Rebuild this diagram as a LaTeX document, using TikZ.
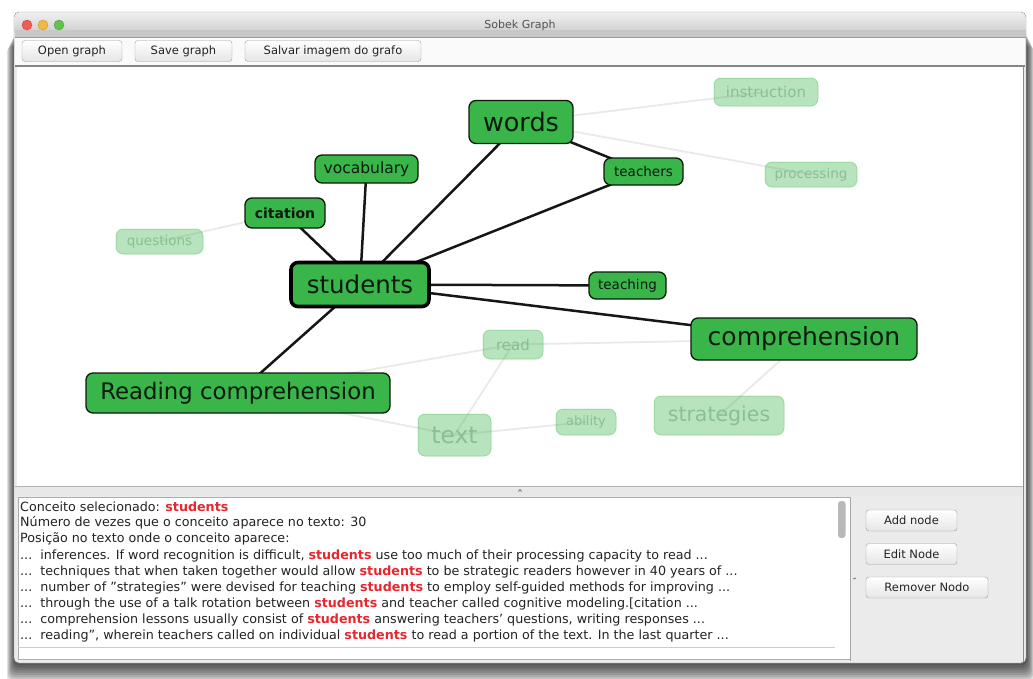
\documentclass[tikz,border=0pt]{standalone}
\usepackage{fontspec}
\setmainfont{DejaVu Sans}
\pgfdeclarelayer{chrome}
\pgfdeclarelayer{edges}
\pgfsetlayers{chrome,edges,main}

\definecolor{nodegreen}{RGB}{57,181,74}
\definecolor{nodeink}{RGB}{12,26,14}
\definecolor{faintink}{RGB}{138,190,148}
\definecolor{hitred}{RGB}{232,38,48}
\definecolor{uiink}{RGB}{35,35,35}
\definecolor{tieink}{RGB}{22,22,22}
\definecolor{weakink}{RGB}{233,233,233}
\definecolor{lampred}{RGB}{238,92,84}
\definecolor{lampredrim}{RGB}{200,70,62}
\definecolor{lampamber}{RGB}{243,184,62}
\definecolor{lampamberrim}{RGB}{205,150,45}
\definecolor{lampgreen}{RGB}{98,194,80}
\definecolor{lampgreenrim}{RGB}{72,160,60}

\newcommand{\redword}{\textcolor{hitred}{\bfseries students}}
\newcommand{\fsz}[1]{\fontsize{#1}{#1}\selectfont}
\newcommand{\dq}{\symbol{34}}

\tikzset{
  hub/.style={draw=nodeink, line width=1.3pt, fill=nodegreen, rounded corners=7pt,
    inner sep=0pt, text=nodeink, align=center},
  faint/.style={draw=nodegreen, draw opacity=0.3, line width=1pt, fill=nodegreen,
    fill opacity=0.36, text opacity=1, text=faintink, rounded corners=7pt,
    inner sep=0pt, align=center},
  tie/.style={line width=2.5pt, draw=tieink},
  weak/.style={line width=1.8pt, draw=weakink},
  uitext/.style={anchor=west, inner sep=0pt, text=uiink, font=\fsz{12.7}},
  uibutton/.style={draw=black!38, rounded corners=3pt, top color=white, bottom color=black!10,
    inner sep=0pt, minimum height=21pt, text=uiink, font=\fsz{11.5}}
}

\begin{document}
\begin{tikzpicture}[x=1pt,y=-1pt]
\useasboundingbox (0,0) rectangle (1033,678);

% ---------- window chrome ----------
\begin{pgfonlayer}{chrome}
  \fill[white] (0,0) rectangle (1033,678);
  % soft drop shadow below and right of the window
  \foreach \d in {0,...,8}
    \fill[black, opacity=0.12, rounded corners=6pt]
      (15-\d*1,30+\d*2) rectangle (1026+\d*1,663+\d*2.4);
  % window body
  \fill[black!8, draw=black!45, rounded corners=5pt] (14,12) rectangle (1026,663);
  % title bar
  \shade[top color=black!6, bottom color=black!22, rounded corners=5pt]
    (14.5,12.5) rectangle (1025.5,37);
  \fill[black!22] (14.5,30) rectangle (1025.5,37);
  \draw[black!38] (14.5,37) -- (1025.5,37);
  \fill[lampred, draw=lampredrim] (27,25) circle (5);
  \fill[lampamber, draw=lampamberrim] (43,25) circle (5);
  \fill[lampgreen, draw=lampgreenrim] (59,25) circle (5);
  \node[text=black!68, font=\fsz{11}] (title) at (520,25) {Sobek Graph};
  % toolbar strip
  \fill[black!2] (15,37.5) rectangle (1025,65);
  \draw[black!48, line width=1.4pt] (15,66) -- (1025,66);
  % graph canvas
  \fill[white] (17,67) rectangle (1023,486);
  \draw[black!45, line width=1.5pt] (1023.5,66) -- (1023.5,662);
  % splitter
  \fill[black!9] (15,486) rectangle (1023,496);
  \draw[black!30] (15,486.5) -- (1023,486.5);
  \draw[black!55, line width=0.8pt] (518.5,491.5) -- (520,489.5) -- (521.5,491.5);
  % bottom text area
  \fill[white, draw=black!32] (18,497) rectangle (850,659);
  \draw[black!20] (18,647) -- (835,647);
  \fill[black!28, rounded corners=3pt] (838,501) rectangle (845.5,538);
  % right command panel
  \fill[black!8] (851,497) rectangle (1022.5,661);
  \draw[black!35] (850.5,497) -- (850.5,661);
  \draw[black!55, line width=0.8pt] (853,579) -- (856,578);
\end{pgfonlayer}

% ---------- toolbar buttons ----------
\node[uibutton, minimum width=100pt] (open) at (72,51) {Open graph};
\node[uibutton, minimum width=97pt] (save) at (183.5,51) {Save graph};
\node[uibutton, minimum width=176pt] (export) at (333,51) {Salvar imagem do grafo};

% ---------- concept graph ----------
\node[hub, minimum width=104pt, minimum height=43pt, font=\fsz{25.5}] (words) at (521,122) {words};
\node[faint, minimum width=104pt, minimum height=28pt, font=\fsz{15}] (instruction) at (766,92) {instruction};
\node[hub, minimum width=103pt, minimum height=28pt, font=\fsz{15.5}] (vocabulary) at (366.5,169) {vocabulary};
\node[hub, minimum width=79pt, minimum height=27pt, font=\fsz{13.5}] (teachers) at (643.5,171.5) {teachers};
\node[faint, minimum width=92pt, minimum height=25pt, font=\fsz{13.5}] (processing) at (811,174.5) {processing};
\node[hub, minimum width=80pt, minimum height=30pt, font=\fsz{14}\bfseries] (citation) at (285,213) {citation};
\node[faint, minimum width=87pt, minimum height=25pt, font=\fsz{13.5}] (questions) at (159.5,241.5) {questions};
\node[hub, line width=3.6pt, draw=black, minimum width=138pt, minimum height=44pt, font=\fsz{24.5}] (students) at (360,284.5) {students};
\node[hub, minimum width=77pt, minimum height=27pt, font=\fsz{13.5}] (teaching) at (627.5,285.5) {teaching};
\node[hub, minimum width=226pt, minimum height=42pt, font=\fsz{25}] (comprehension) at (804,339) {comprehension};
\node[faint, minimum width=60pt, minimum height=29pt, font=\fsz{15}] (read) at (513,344.5) {read};
\node[hub, minimum width=304pt, minimum height=40pt, font=\fsz{22.8}] (readingcomp) at (238,393) {Reading comprehension};
\node[faint, minimum width=73pt, minimum height=42pt, font=\fsz{23.5}] (text) at (454.5,435) {text};
\node[faint, minimum width=60pt, minimum height=26pt, font=\fsz{13}] (ability) at (586,422) {ability};
\node[faint, minimum width=130pt, minimum height=39pt, font=\fsz{20.5}] (strategies) at (719,415.5) {strategies};

\begin{pgfonlayer}{edges}
  % weak links
  \draw[weak] (words.center) -- (instruction.center);
  \draw[weak] (words.center) -- (processing.center);
  \draw[weak] (citation.center) -- (questions.center);
  \draw[weak] (readingcomp.center) -- (read.center);
  \draw[weak] (readingcomp.center) -- (text.center);
  \draw[weak] (read.center) -- (text.center);
  \draw[weak] (read.center) -- (comprehension.center);
  \draw[weak] (text.center) -- (ability.center);
  \draw[weak] (comprehension.center) -- (strategies.center);
  % strong links
  \draw[tie] (students.center) -- (citation.center);
  \draw[tie] (students.center) -- (vocabulary.center);
  \draw[tie] (students.center) -- (words.center);
  \draw[tie] (students.center) -- (teachers.center);
  \draw[tie] (words.center) -- (teachers.center);
  \draw[tie] (students.center) -- (teaching.center);
  \draw[tie] (students.center) -- (comprehension.center);
  \draw[tie] (students.center) -- (readingcomp.center);
\end{pgfonlayer}

% ---------- occurrence listing ----------
\node[uitext] (l1) at (20,507) {Conceito selecionado: \redword};
\node[uitext] (l2) at (20,523) {Número de vezes que o conceito aparece no texto: 30};
\node[uitext] (l3) at (20,539) {Posição no texto onde o conceito aparece:};
\node[uitext] (l4) at (20,555.5) {...\ \ inferences. If word recognition is difficult, \redword{} use too much of their processing capacity to read ...};
\node[uitext] (l5) at (20,571.5) {...\ \ techniques that when taken together would allow \redword{} to be strategic readers however in 40 years of ...};
\node[uitext] (l6) at (20,588) {...\ \ number of \dq strategies\dq{} were devised for teaching \redword{} to employ self-guided methods for improving ...};
\node[uitext] (l7) at (20,604) {...\ \ through the use of a talk rotation between \redword{} and teacher called cognitive modeling.[citation ...};
\node[uitext] (l8) at (20,620) {...\ \ comprehension lessons usually consist of \redword{} answering teachers' questions, writing responses ...};
\node[uitext] (l9) at (20,636) {...\ \ reading\dq, wherein teachers called on individual \redword{} to read a portion of the text. In the last quarter ...};

% ---------- command buttons ----------
\node[uibutton, minimum width=91pt] (addnode) at (911.5,520.5) {Add node};
\node[uibutton, minimum width=91pt] (editnode) at (911.5,554) {Edit Node};
\node[uibutton, minimum width=122pt] (removenode) at (927,587.5) {Remover Nodo};
\end{tikzpicture}
\end{document}
